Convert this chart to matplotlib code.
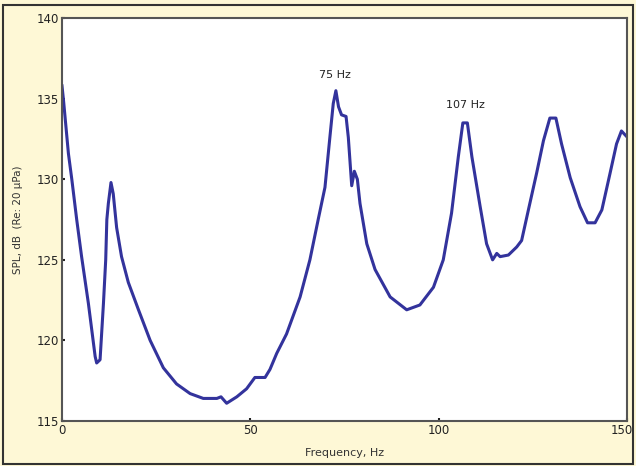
import numpy as np
import matplotlib.pyplot as plt
from matplotlib.patches import Rectangle
from matplotlib.transforms import ScaledTranslation

# Données (fréquence en Hz, niveau en dB)
freq = [0, 0.4, 1.7, 2.6, 3.9, 5.2, 7.0, 8.8, 9.2, 10.1, 11.0, 11.6, 11.9, 12.3, 13.0,
        13.6, 14.5, 15.8, 17.6, 20.3, 23.4, 26.9, 30.4, 34.0, 37.5, 41.1, 42.2, 43.7,
        46.4, 49.0, 51.2, 53.9, 55.2, 57.0, 59.6, 63.2, 65.8, 68.0, 69.8, 71.1, 72.0,
        72.7, 73.4, 74.2, 75.4, 76.0, 76.6, 76.9, 77.6, 78.4, 79.1, 80.9, 83.1, 87.1,
        91.5, 95.0, 98.6, 101.2, 103.4, 105.2, 106.4, 107.6, 108.8, 111.0, 112.7, 114.3,
        115.4, 116.3, 118.5, 120.7, 122.0, 123.8, 126.0, 127.8, 129.5, 131.1, 132.6,
        134.9, 137.5, 139.5, 141.5, 143.3, 145.5, 147.2, 148.5, 149.7]
spl = [135.8, 134.9, 131.6, 130.0, 127.5, 125.2, 122.3, 119.0, 118.6, 118.8, 122.3,
       125.0, 127.5, 128.5, 129.8, 129.1, 127.0, 125.2, 123.6, 121.9, 120.0, 118.3,
       117.3, 116.7, 116.4, 116.4, 116.5, 116.1, 116.5, 117.0, 117.7, 117.7, 118.2,
       119.2, 120.4, 122.7, 125.0, 127.5, 129.5, 132.6, 134.7, 135.5, 134.5, 134.0,
       133.9, 132.6, 130.6, 129.6, 130.5, 130.0, 128.5, 126.0, 124.4, 122.7, 121.9,
       122.2, 123.3, 125.0, 127.9, 131.4, 133.5, 133.5, 131.4, 128.3, 126.0, 125.0,
       125.4, 125.2, 125.3, 125.8, 126.2, 128.1, 130.4, 132.4, 133.8, 133.8, 132.2,
       130.1, 128.3, 127.3, 127.3, 128.1, 130.4, 132.2, 133.0, 132.7]

pics = ['75 Hz', '107 Hz']
pics_x = [72.5, 107]
pics_y = [136.5, 134.6]

xticks = [0, 50, 100, 150]
yticks = [115, 120, 125, 130, 135, 140]

fond = '#fef8d6'
gris = '#555555'

fig = plt.figure(figsize=(6.36, 4.66), dpi=100, facecolor=fond)
ax = fig.add_axes([0.0975, 0.0966, 0.8885, 0.8644])
ax.set_facecolor('white')

ax.plot(freq, spl, color='#33339c', linewidth=2.2)

for txt, x, y in zip(pics, pics_x, pics_y):
    ax.text(x, y, txt, ha='center', va='center', fontsize=8, color='#222222')

ax.set_xlim(0, 150)
ax.set_ylim(115, 140)
ax.set_xticks(xticks)
ax.set_yticks(yticks)
ax.tick_params(direction='in', length=2, width=1.5, labelsize=8.5, colors='#222222', pad=2)
for s in ax.spines.values():
    s.set_color(gris)
    s.set_linewidth(1.5)

# Décaler un peu le dernier label pour qu'il reste dans le cadre
dernier = ax.get_xticklabels()[-1]
dernier.set_transform(dernier.get_transform() + ScaledTranslation(-4 / 72, 0, fig.dpi_scale_trans))

ax.set_xlabel('Frequency, Hz', fontsize=8, color='#333333', labelpad=8)
ax.set_ylabel('SPL, dB  (Re: 20 µPa)', fontsize=7.5, color='#333333', labelpad=10)

# Cadre extérieur
fig.patches.append(Rectangle((0.005, 0.005), 0.99, 0.985, transform=fig.transFigure,
                             fill=False, edgecolor='#333333', linewidth=1.5))

fig.savefig('out.png', dpi=100, facecolor=fond)
